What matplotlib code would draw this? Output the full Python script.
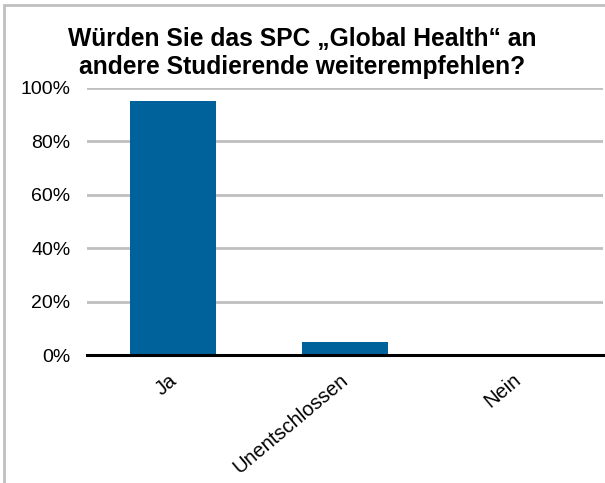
import matplotlib.pyplot as plt
import matplotlib.transforms as mtransforms
from matplotlib.patches import Rectangle
from matplotlib.ticker import PercentFormatter

plt.rcParams['font.family'] = ['Liberation Sans', 'DejaVu Sans']

categories = ['Ja', 'Unentschlossen', 'Nein']
values = [95, 5, 0]
title = 'Würden Sie das SPC \u201eGlobal Health\u201c an\nandere Studierende weiterempfehlen?'

fig = plt.figure(figsize=(6.05, 4.83), dpi=100)
ax = fig.add_axes([87 / 605, 1 - 355 / 483, 516 / 605, 267 / 483])

# light grey outer frame (cut at right and bottom like the screenshot)
fig.patches.append(Rectangle((4 / 605, -0.1), 1.2, 1 - 5 / 483 + 0.1,
                             transform=fig.transFigure, fill=False,
                             edgecolor='#c0c0c0', linewidth=2))

ax.bar(range(len(categories)), values, width=0.5, color='#00629b', zorder=2)
ax.set_xlim(-0.5, len(categories) - 0.5)
ax.set_ylim(0, 100)
ax.set_yticks(range(0, 101, 20))
ax.yaxis.set_major_formatter(PercentFormatter(decimals=0))
ax.grid(axis='y', color='#bfbfbf', linewidth=2, zorder=0)
ax.set_axisbelow(True)
for s in ['top', 'right', 'left']:
    ax.spines[s].set_visible(False)
ax.spines['bottom'].set_linewidth(2.2)
ax.spines['bottom'].set_zorder(3)
ax.tick_params(axis='y', length=0, labelsize=14, pad=12)

ax.set_xticks(range(len(categories)))
ax.set_xticklabels(categories, rotation=40, ha='right', rotation_mode='anchor')
ax.tick_params(axis='x', length=0, labelsize=14.5, pad=11)
shift = mtransforms.ScaledTranslation(-5 / 100, 0, fig.dpi_scale_trans)
for lbl in ax.get_xticklabels():
    lbl.set_transform(lbl.get_transform() + shift)

fig.text(0.5, 1 - 53 / 483, title, ha='center', va='center',
         fontsize=17.7, fontweight='bold', linespacing=1.2)

fig.savefig('out.png', dpi=100)
